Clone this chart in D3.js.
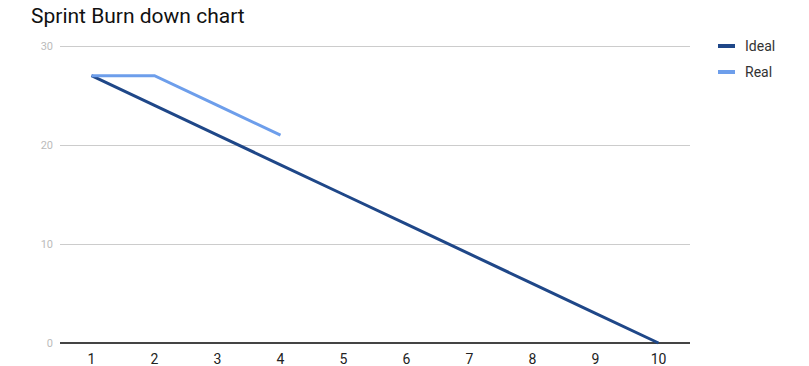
<html lang="en">
<head>
  <meta charset="UTF-8">
  <title>Sprint Burn down chart</title>
  <style>
    body { margin: 0; background: #fff; }
    text { font-family: Roboto, "Noto Sans", sans-serif; }
  </style>
</head>
<body>
  <script src="https://d3js.org/d3.v7.min.js"></script>
  <div id="chart"></div>
  <script>
    let days = ['1', '2', '3', '4', '5', '6', '7', '8', '9', '10'];
    let ideal = [27, 24, 21, 18, 15, 12, 9, 6, 3, 0];
    let real = [27, 27, 24, 21];
    let yTicks = [0, 10, 20, 30];
    let seriesNames = ['Ideal', 'Real'];
    let seriesColors = ['#1f4788', '#6d9eeb'];

    function translate(x, y) { return 'translate(' + x + ',' + y + ')'; }

    let W = 809, H = 366;
    let plot = { left: 60, right: 690, top: 46, bottom: 343 };

    let svg = d3.select('#chart').append('svg')
      .attr('width', W)
      .attr('height', H);

    svg.append('text')
      .attr('x', 31)
      .attr('y', 23)
      .style('font-size', '21px')
      .attr('fill', '#111')
      .text('Sprint Burn down chart');

    let x = d3.scalePoint()
      .domain(days)
      .range([plot.left, plot.right])
      .padding(0.5);

    let y = d3.scaleLinear()
      .domain([0, 30])
      .range([plot.bottom, plot.top]);

    // gridlines
    svg.append('g')
      .selectAll('line')
      .data(yTicks)
      .join('line')
        .attr('x1', plot.left)
        .attr('x2', plot.right)
        .attr('y1', d => y(d))
        .attr('y2', d => y(d))
        .attr('stroke', d => d === 0 ? '#444' : '#ccc')
        .attr('stroke-width', d => d === 0 ? 1.5 : 1)
        .style('shape-rendering', 'crispEdges');

    // y labels
    svg.append('g')
      .selectAll('text')
      .data(yTicks)
      .join('text')
        .attr('x', plot.left - 7)
        .attr('y', d => y(d))
        .attr('dy', '0.35em')
        .attr('text-anchor', 'end')
        .style('font-size', '11px')
        .attr('fill', '#bbb')
        .text(d => d);

    // x labels
    svg.append('g')
      .selectAll('text')
      .data(days)
      .join('text')
        .attr('x', d => x(d))
        .attr('y', plot.bottom + 21)
        .attr('text-anchor', 'middle')
        .style('font-size', '14px')
        .attr('fill', '#222')
        .text(d => d);

    let line = d3.line()
      .x((d, i) => x(days[i]))
      .y(d => y(d));

    [ideal, real].forEach((series, k) => {
      svg.append('path')
        .datum(series)
        .attr('fill', 'none')
        .attr('stroke', seriesColors[k])
        .attr('stroke-width', 3)
        .attr('d', line);
    });

    // legend
    let legend = svg.append('g').attr('transform', translate(718, 46));
    seriesNames.forEach((name, k) => {
      let g = legend.append('g').attr('transform', translate(0, k * 26));
      g.append('rect')
        .attr('x', 0)
        .attr('y', -2)
        .attr('width', 17)
        .attr('height', 4)
        .attr('fill', seriesColors[k]);
      g.append('text')
        .attr('x', 27)
        .attr('dy', '0.35em')
        .style('font-size', '14px')
        .attr('fill', '#333')
        .text(name);
    });
  </script>
</body>
</html>
